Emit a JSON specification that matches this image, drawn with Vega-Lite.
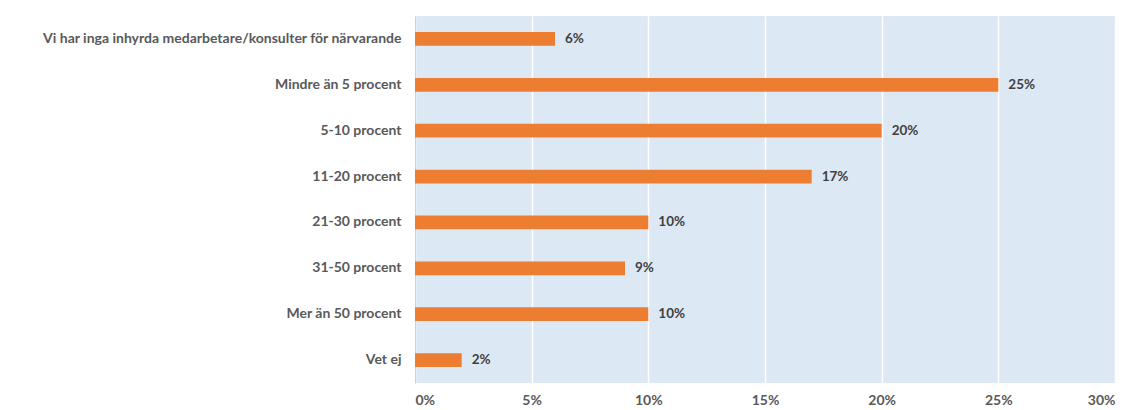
{
  "$schema": "https://vega.github.io/schema/vega-lite/v6.json",
  "autosize": {"type": "none"},
  "padding": {"left": 415, "top": 16, "right": 15, "bottom": 27},
  "width": 700,
  "height": 367,
  "background": "white",
  "config": {
    "view": {"fill": "#dde8f5", "stroke": null},
    "font": "Lato"
  },
  "data": {
    "values": [
      {"kategori": "Vi har inga inhyrda medarbetare/konsulter för närvarande", "andel": 0.06},
      {"kategori": "Mindre än 5 procent", "andel": 0.25},
      {"kategori": "5-10 procent", "andel": 0.20},
      {"kategori": "11-20 procent", "andel": 0.17},
      {"kategori": "21-30 procent", "andel": 0.10},
      {"kategori": "31-50 procent", "andel": 0.09},
      {"kategori": "Mer än 50 procent", "andel": 0.10},
      {"kategori": "Vet ej", "andel": 0.02}
    ]
  },
  "encoding": {
    "y": {
      "field": "kategori",
      "type": "nominal",
      "sort": null,
      "scale": {"paddingInner": 0.7, "paddingOuter": 0.35},
      "axis": {
        "title": null,
        "ticks": false,
        "domain": true,
        "domainColor": "#d0d0d0",
        "labelFont": "Lato",
        "labelFontWeight": "bold",
        "labelFontSize": 14,
        "labelColor": "#595959",
        "labelPadding": 14,
        "labelLimit": 420
      }
    },
    "x": {
      "field": "andel",
      "type": "quantitative",
      "scale": {"domain": [0, 0.3], "nice": false},
      "axis": {
        "title": null,
        "format": ".0%",
        "values": [0, 0.05, 0.1, 0.15, 0.2, 0.25, 0.3],
        "ticks": false,
        "domain": false,
        "grid": true,
        "gridColor": "white",
        "gridWidth": 1.5,
        "labelFont": "Lato",
        "labelFontWeight": "bold",
        "labelFontSize": 14,
        "labelColor": "#595959",
        "labelPadding": 10
      }
    }
  },
  "layer": [
    {"mark": {"type": "bar", "color": "#ed7d31"}},
    {
      "mark": {"type": "text", "align": "left", "dx": 10, "font": "Lato", "fontWeight": "bold", "fontSize": 13.5, "color": "#404040"},
      "encoding": {"text": {"field": "andel", "type": "quantitative", "format": ".0%"}}
    }
  ]
}
